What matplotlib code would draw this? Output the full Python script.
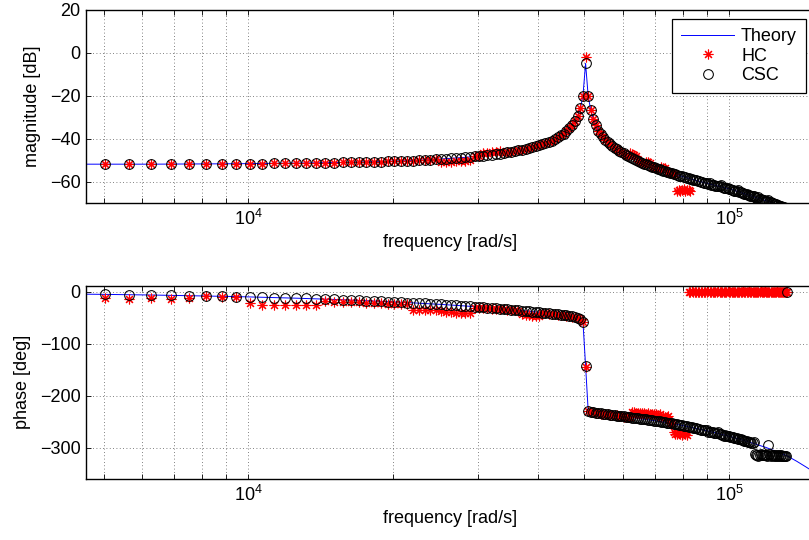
import numpy as np
import matplotlib
matplotlib.use("Agg")
from matplotlib import pyplot as plt
from matplotlib.ticker import NullFormatter

plt.rcParams['font.family'] = ['Liberation Sans', 'DejaVu Sans']
plt.rcParams['mathtext.fontset'] = 'custom'
plt.rcParams['mathtext.rm'] = 'Liberation Sans'
plt.rcParams['mathtext.it'] = 'Liberation Sans:italic'

# measured points (frequency in Hz, converted to rad/s below)
freq_hz = [
    800, 900, 1000, 1100, 1200, 1300, 1400, 1500, 1600, 1700,
    1800, 1900, 2000, 2100, 2200, 2300, 2400, 2500, 2600, 2700,
    2800, 2900, 3000, 3100, 3200, 3300, 3400, 3500, 3600, 3700,
    3800, 3900, 4000, 4100, 4200, 4300, 4400, 4500, 4600, 4700,
    4800, 4900, 5000, 5100, 5200, 5300, 5400, 5500, 5600, 5700,
    5800, 5900, 6000, 6100, 6200, 6300, 6400, 6500, 6600, 6700,
    6800, 6900, 7000, 7100, 7200, 7300, 7400, 7500, 7600, 7700,
    7800, 7900, 8000, 8100, 8200, 8300, 8400, 8500, 8600, 8700,
    8800, 8900, 9000, 9100, 9200, 9300, 9400, 9500, 9600, 9700,
    9800, 9900, 10000, 10100, 10200, 10300, 10400, 10500, 10600, 10700,
    10800, 10900, 11000, 11100, 11200, 11300, 11400, 11500, 11600, 11700,
    11800, 11900, 12000, 12100, 12200, 12300, 12400, 12500, 12600, 12700,
    12800, 12900, 13000, 13100, 13200, 13300, 13400, 13500, 13600, 13700,
    13800, 13900, 14000, 14100, 14200, 14300, 14400, 14500, 14600, 14700,
    14800, 14900, 15000, 15100, 15200, 15300, 15400, 15500, 15600, 15700,
    15800, 15900, 16000, 16100, 16200, 16300, 16400, 16500, 16600, 16700,
    16800, 16900, 17000, 17100, 17200, 17300, 17400, 17500, 17600, 17700,
    17800, 17900, 18000, 18100, 18200, 18300, 18400, 18500, 18600, 18700,
    18800, 18900, 19000, 19100, 19200, 19300, 19400, 19500, 19600, 19700,
    19800, 19900, 20000, 20100, 20200, 20300, 20400, 20500, 20600, 20700,
    20800, 20900, 21000,
]

csc_mag = [
    -51.9, -51.9, -51.9, -51.8, -51.8, -51.8, -51.7, -51.7, -51.6, -51.6,
    -51.5, -51.5, -51.4, -51.4, -51.3, -51.2, -51.2, -51.1, -51.0, -50.9,
    -50.9, -50.8, -50.7, -50.6, -50.5, -50.4, -50.3, -50.2, -50.0, -49.9,
    -49.8, -49.6, -49.5, -49.4, -49.2, -49.0, -48.9, -48.7, -48.5, -48.3,
    -48.1, -47.9, -47.7, -47.5, -47.2, -47.0, -46.7, -46.4, -46.2, -45.8,
    -45.5, -45.2, -44.8, -44.4, -44.0, -43.6, -43.1, -42.6, -42.1, -41.5,
    -40.9, -40.2, -39.4, -38.5, -37.6, -36.5, -35.2, -33.7, -31.8, -29.3,
    -25.9, -20.0, -4.9, -20.2, -26.6, -30.7, -33.7, -36.2, -37.8, -39.2,
    -40.4, -41.5, -42.5, -43.4, -44.2, -44.9, -45.6, -46.3, -46.9, -47.5,
    -48.0, -48.5, -49.0, -49.5, -49.9, -50.4, -50.8, -51.2, -51.6, -51.9,
    -52.3, -52.7, -53.0, -53.3, -53.7, -54.0, -54.3, -54.6, -54.9, -55.1,
    -55.4, -55.7, -55.9, -56.2, -56.4, -56.7, -56.9, -57.2, -57.4, -57.6,
    -57.9, -58.1, -58.3, -58.5, -58.7, -58.9, -59.1, -59.3, -59.5, -59.7,
    -59.9, -60.1, -60.3, -60.5, -60.7, -60.8, -61.0, -60.6, -61.4, -61.5,
    -61.7, -61.9, -62.0, -62.2, -62.3, -61.8, -62.6, -62.8, -63.0, -63.1,
    -63.2, -63.4, -63.5, -63.8, -63.9, -64.2, -64.3, -64.5, -64.0, -64.9,
    -65.1, -65.3, -65.5, -65.7, -65.9, -66.0, -66.2, -66.4, -66.6, -66.8,
    -66.9, -66.6, -67.3, -67.5, -67.7, -67.3, -68.0, -68.2, -68.4, -68.5,
    -68.7, -68.9, -69.0, -69.2, -68.8, -69.6, -69.7, -69.9, -70.1, -70.3,
    -70.4, -70.6, -70.8, -71.0, -71.2, -71.3, -71.5, -71.7, -71.9, -72.1,
    -72.2, -72.4, -85.0,
]

hc_mag = [
    -51.9, -51.9, -51.9, -51.8, -51.8, -51.8, -51.7, -51.7, -51.6, -51.6,
    -51.5, -51.5, -51.4, -51.4, -51.3, -51.2, -51.2, -51.1, -51.0, -50.9,
    -50.9, -50.8, -50.7, -50.6, -50.5, -50.4, -50.3, -50.2, -50.0, -49.9,
    -49.8, -49.6, -51.0, -50.9, -50.7, -50.5, -50.4, -50.2, -50.0, -48.3,
    -48.1, -46.7, -46.5, -46.3, -46.0, -45.8, -46.7, -46.4, -46.2, -45.8,
    -45.5, -45.2, -44.8, -44.4, -44.0, -43.6, -43.1, -42.6, -42.1, -41.5,
    -40.9, -40.2, -39.4, -38.5, -37.6, -36.5, -35.2, -33.7, -31.8, -29.3,
    -25.9, -20.0, -2.1, -20.2, -26.6, -30.7, -33.7, -36.2, -37.8, -39.2,
    -40.4, -41.5, -42.5, -43.4, -44.2, -44.9, -45.6, -46.3, -46.9, -47.5,
    -48.0, -46.6, -47.0, -47.5, -47.9, -50.4, -50.8, -51.2, -51.6, -50.7,
    -51.1, -51.5, -53.0, -53.3, -53.7, -54.0, -54.3, -53.4, -53.7, -53.9,
    -55.4, -55.7, -55.9, -56.2, -56.4, -56.7, -64.3, -63.8, -64.5, -64.0,
    -63.7, -64.4, -64.1, -63.9, -64.2, -90.0, -90.0, -90.0, -90.0, -90.0,
    -90.0, -90.0, -90.0, -90.0, -90.0, -90.0, -90.0, -90.0, -90.0, -90.0,
    -90.0, -90.0, -90.0, -90.0, -90.0, -90.0, -90.0, -90.0, -90.0, -90.0,
    -90.0, -90.0, -90.0, -90.0, -90.0, -90.0, -90.0, -90.0, -90.0, -90.0,
    -90.0, -90.0, -90.0, -90.0, -90.0, -90.0, -90.0, -90.0, -90.0, -90.0,
    -90.0, -90.0, -90.0, -90.0, -90.0, -90.0, -90.0, -90.0, -90.0, -90.0,
    -90.0, -90.0, -90.0, -90.0, -90.0, -90.0, -90.0, -90.0, -90.0, -90.0,
    -90.0, -90.0, -90.0, -90.0, -90.0, -90.0, -90.0, -90.0, -90.0, -90.0,
    -90.0, -90.0, -90.0,
]

csc_ph = [
    -4.8, -5.4, -6.0, -6.6, -7.2, -7.8, -8.4, -9.0, -9.7, -10.3,
    -10.9, -11.5, -12.1, -12.7, -13.3, -13.9, -14.5, -15.1, -15.7, -16.3,
    -16.9, -17.5, -18.1, -18.7, -19.3, -19.9, -20.5, -21.1, -21.7, -22.3,
    -22.9, -23.5, -24.1, -24.7, -25.3, -25.9, -26.5, -27.1, -27.7, -28.4,
    -29.0, -29.6, -30.4, -31.0, -31.6, -32.2, -32.9, -33.5, -34.1, -34.7,
    -35.3, -35.9, -36.6, -37.2, -37.9, -38.5, -39.1, -39.8, -40.4, -41.1,
    -41.7, -42.4, -43.0, -43.7, -44.6, -45.4, -46.3, -47.2, -48.3, -49.7,
    -52.0, -57.7, -142.0, -228.7, -230.3, -231.6, -232.6, -233.2, -233.9, -234.6,
    -235.2, -235.7, -236.3, -236.8, -237.4, -237.9, -238.5, -239.0, -239.5, -240.1,
    -240.6, -241.2, -241.7, -242.2, -242.8, -243.3, -243.9, -244.4, -244.9, -245.5,
    -246.0, -246.6, -247.1, -247.6, -248.2, -248.7, -249.3, -249.8, -250.3, -250.9,
    -251.4, -252.0, -252.4, -253.1, -253.7, -254.4, -255.0, -255.7, -256.3, -257.0,
    -257.6, -258.3, -258.9, -259.6, -260.2, -260.9, -261.5, -262.2, -262.8, -263.5,
    -264.1, -264.8, -265.4, -266.1, -266.7, -265.5, -270.5, -268.7, -269.3, -270.0,
    -270.6, -271.3, -271.9, -270.0, -273.2, -273.9, -274.5, -277.5, -275.8, -276.5,
    -277.1, -277.8, -278.4, -279.1, -279.8, -280.5, -281.2, -281.9, -282.6, -283.3,
    -284.0, -284.7, -285.4, -286.1, -286.8, -287.5, -288.2, -288.9, -289.7, -290.4,
    -291.1, -288.0, -312.5, -314.0, -313.2, -315.0, -313.8, -312.6, -314.5, -313.4,
    -314.8, -313.5, -313.0, -315.2, -295.0, -312.8, -315.5, -313.6, -314.7, -316.0,
    -313.9, -315.1, -314.3, -316.2, -313.7, -315.4, -314.6, -316.5, -315.0, -315.8,
    -316.1, -315.3, 0.0,
]

hc_ph = [
    -12.5, -12.9, -12.6, -12.8, -12.4, -8.6, -9.2, -9.7, -21.8, -25.3,
    -25.6, -25.4, -25.7, -25.5, -25.6, -18.2, -18.8, -19.3, -19.8, -20.4,
    -20.9, -21.4, -22.0, -22.5, -23.1, -23.6, -24.2, -35.0, -35.3, -35.1,
    -35.6, -35.4, -35.8, -38.5, -39.4, -40.1, -40.8, -41.5, -41.2, -31.0,
    -31.5, -31.8, -31.6, -32.0, -32.6, -33.1, -33.4, -34.0, -34.6, -35.4,
    -36.5, -43.0, -44.5, -45.2, -46.0, -46.8, -45.9, -41.0, -41.2, -41.6,
    -42.3, -42.9, -43.6, -44.2, -45.0, -45.9, -46.7, -47.6, -48.7, -50.0,
    -52.3, -57.7, -144.0, -228.9, -230.6, -231.4, -232.9, -233.0, -234.2, -234.4,
    -235.5, -235.4, -236.6, -236.5, -237.7, -237.6, -238.8, -238.7, -239.8, -239.9,
    -240.9, -241.0, -231.5, -232.0, -232.5, -233.0, -232.8, -233.5, -233.0, -234.0,
    -233.6, -234.5, -235.0, -234.4, -235.6, -236.0, -235.2, -240.0, -239.0, -241.0,
    -240.5, -239.5, -252.6, -253.0, -270.5, -272.8, -274.0, -271.5, -273.5, -275.0,
    -272.0, -274.0, -276.0, 0.5, -0.3, 0.8, 0.2, -0.5, 0.6, 0.0,
    0.4, -0.2, 0.7, 0.1, -0.6, 0.3, 0.9, -0.1, 0.5, 0.2,
    -0.4, 0.6, 0.1, 0.8, -0.3, 0.4, 0.0, 0.7, -0.5, 0.3,
    0.9, 0.2, -0.2, 0.5, 0.1, -0.6, 0.7, 0.3, 0.0, 0.6,
    -0.1, 0.4, 0.8, -0.4, 0.2, 0.5, -0.2, 0.9, 0.1, 0.3,
    0.6, -0.5, 0.2, 0.7, 0.0, 0.4, -0.3, 0.8, 0.5, -0.1,
    0.3, 0.9, -0.2, 0.1, 0.6, 0.4, -0.4, 0.2, 0.7, 0.0,
    0.5, -0.3, 0.8, 0.1, 0.4, -0.1, 0.6, 0.2, -0.5, 0.3,
    0.3, -0.4, 0.2,
]

# theory curve
theory_hz = [731, 800, 1000, 1500, 2000, 2500, 3000, 3500, 4000, 4500,
             5000, 5500, 6000, 6500, 7000, 7200, 7400, 7500, 7600, 7700,
             7800, 7900, 8000, 8100, 8200, 8300, 8400, 8500, 8600, 8800,
             9000, 9500, 10000, 11000, 12000, 13000, 14000, 15000, 16000, 17000,
             18000, 19000, 20000, 21000, 22000, 23000, 24000]
theory_mag = [-51.9, -51.9, -51.9, -51.7, -51.4, -51.1, -50.7, -50.2, -49.5, -48.7,
              -47.7, -46.4, -44.8, -42.6, -39.4, -37.6, -35.2, -33.7, -31.8, -29.3,
              -25.9, -20.0, -4.9, -20.2, -26.6, -30.7, -33.7, -36.2, -37.8, -40.4,
              -42.5, -46.3, -49.0, -53.0, -55.9, -58.3, -60.3, -62.0, -63.5, -65.5,
              -67.3, -69.0, -70.8, -72.6, -73.8, -75.2, -76.6]
theory_ph = [-4.4, -4.8, -6.0, -9.0, -12.1, -15.1, -18.1, -21.1, -24.1, -27.1,
             -30.4, -33.5, -36.6, -39.8, -43.0, -44.6, -46.3, -47.2, -48.3, -49.7,
             -52.0, -57.7, -142.0, -228.7, -230.3, -231.6, -232.6, -233.2, -233.9, -235.2,
             -236.3, -239.0, -241.7, -247.1, -252.4, -258.9, -265.4, -271.9, -278.4, -285.4,
             -292.5, -299.5, -307.5, -315.6, -326.0, -337.0, -348.0]

w = 2 * np.pi * np.array(freq_hz)
w_th = 2 * np.pi * np.array(theory_hz)

fig = plt.figure(figsize=(8.09, 5.40), dpi=100)
ax1 = fig.add_axes([0.1063, 0.6241, 0.9011, 0.3574])
ax2 = fig.add_axes([0.1063, 0.1130, 0.9011, 0.3580])

grid_style = dict(ls=(0, (1, 3)), color='0.35', lw=0.6)

for ax, th, hc, csc in [(ax1, theory_mag, hc_mag, csc_mag), (ax2, theory_ph, hc_ph, csc_ph)]:
    ax.semilogx(w_th, th, color='b', lw=0.7, label='Theory')
    ax.semilogx(w, hc, ls='none', marker=(8, 2, 0), ms=7, color='r', mew=0.8, label='HC')
    ax.semilogx(w, csc, ls='none', marker='o', ms=7, mfc='none', mec='k', mew=0.75, label='CSC')
    ax.set_xlim(4594, 150800)
    ax.grid(True, which='major', **grid_style)
    ax.xaxis.grid(True, which='minor', **grid_style)
    ax.xaxis.set_minor_formatter(NullFormatter())
    ax.tick_params(which='both', direction='in', top=True, right=True,
                   length=3.5, width=0.6, labelsize=13, pad=4)
    for s in ax.spines.values():
        s.set_linewidth(1.0)
    ax.set_xlabel('frequency [rad/s]', fontsize=13, labelpad=4)

ax1.set_ylim(-70, 20)
ax1.set_yticks([-60, -40, -20, 0, 20])
ax1.set_ylabel('magnitude [dB]', fontsize=13, labelpad=6)

ax2.set_ylim(-360, 12)
ax2.set_yticks([-300, -200, -100, 0])
ax2.set_ylabel('phase [deg]', fontsize=13, labelpad=6)

leg = ax1.legend(loc='upper right', fontsize=13, fancybox=False, framealpha=1,
                 edgecolor='k', handlelength=2.9, handletextpad=0.4,
                 borderpad=0.5, labelspacing=0.15, borderaxespad=0.5)
leg.get_frame().set_linewidth(0.9)

fig.savefig('out.png', dpi=100)
